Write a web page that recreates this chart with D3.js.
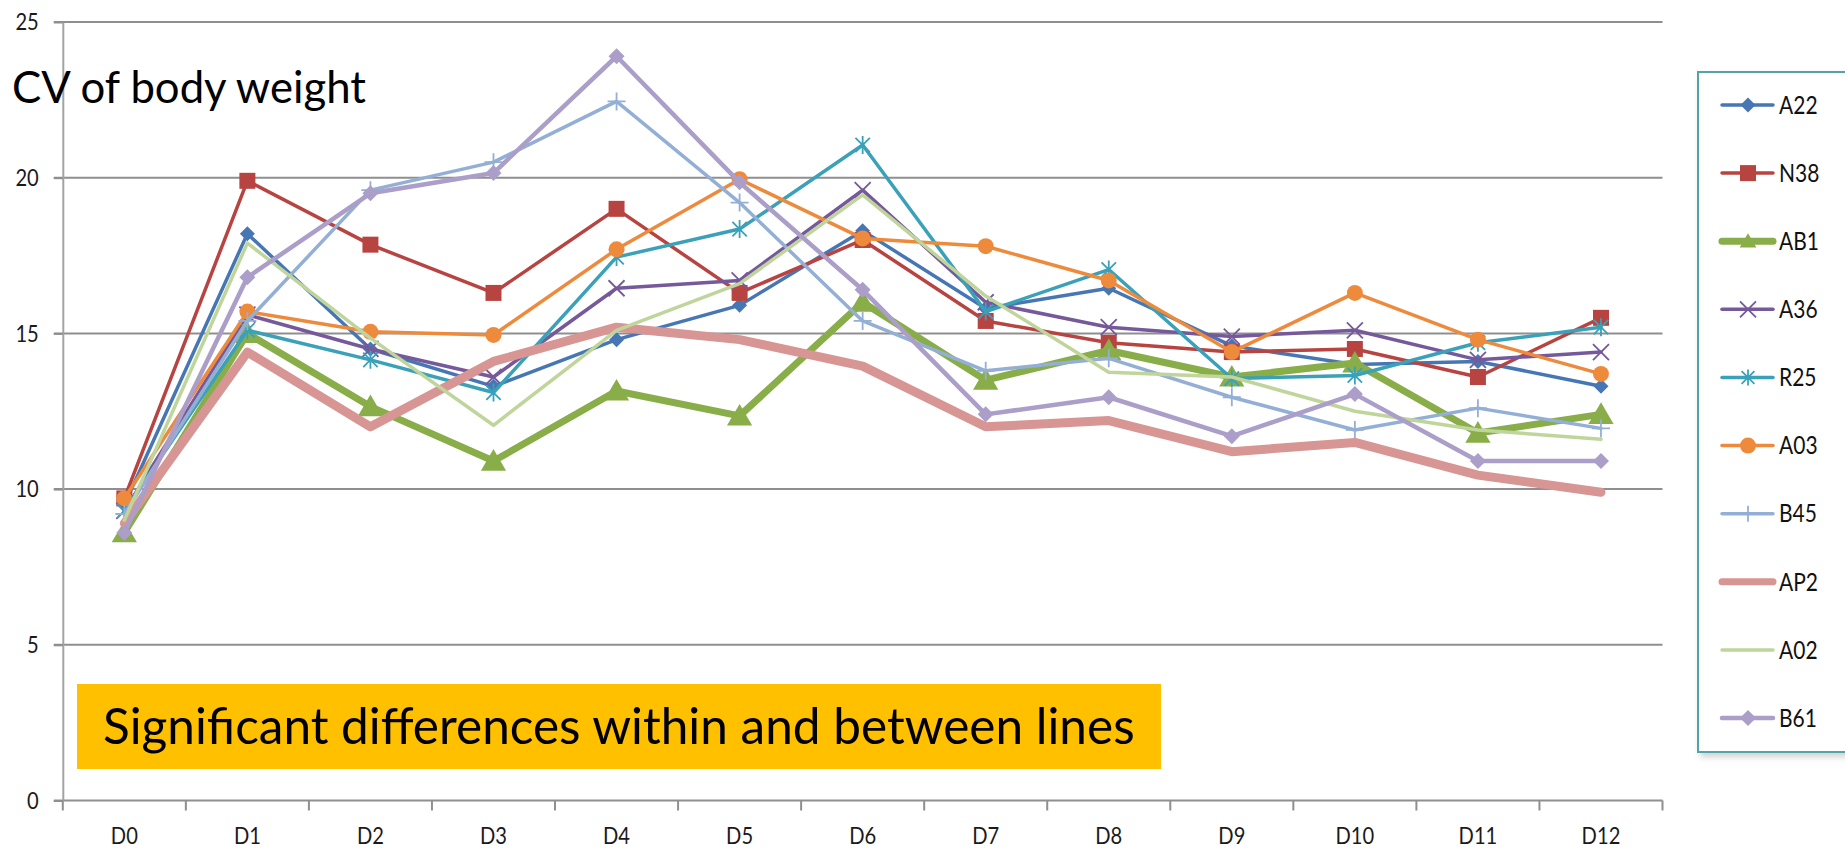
<!DOCTYPE html>
<html>
<head>
<meta charset="utf-8">
<script src="https://cdn.jsdelivr.net/npm/d3@7"></script>
<style>
  html, body { margin: 0; padding: 0; background: #ffffff; overflow: hidden; }
  svg { display: block; font-family: Lato, "Open Sans", sans-serif; }
</style>
</head>
<body>
<svg id="chart" width="1845" height="850"></svg>
<script>
// Days on the x axis and y tick values
const days = ["D0", "D1", "D2", "D3", "D4", "D5", "D6", "D7", "D8", "D9", "D10", "D11", "D12"];
const yTicks = [0, 5, 10, 15, 20, 25];

// CV of body weight (%) per line, D0..D12
const A22 = [9.5, 18.2, 14.5, 13.3, 14.8, 15.9, 18.3, 15.8, 16.45, 14.6, 14.0, 14.1, 13.3];
const N38 = [9.7, 19.9, 17.85, 16.3, 19.0, 16.3, 18.0, 15.4, 14.7, 14.4, 14.5, 13.6, 15.5];
const AB1 = [8.6, 15.0, 12.65, 10.9, 13.15, 12.35, 16.0, 13.5, 14.45, 13.6, 14.05, 11.8, 12.4];
const A36 = [9.3, 15.6, 14.5, 13.6, 16.45, 16.7, 19.6, 16.0, 15.2, 14.9, 15.1, 14.15, 14.4];
const R25 = [9.3, 15.1, 14.15, 13.1, 17.45, 18.35, 21.05, 15.7, 17.05, 13.55, 13.65, 14.7, 15.2];
const A03 = [9.7, 15.7, 15.05, 14.95, 17.7, 19.95, 18.05, 17.8, 16.7, 14.4, 16.3, 14.8, 13.7];
const B45 = [9.2, 15.4, 19.6, 20.5, 22.45, 19.2, 15.4, 13.8, 14.2, 12.95, 11.9, 12.6, 11.95];
const AP2 = [8.9, 14.4, 12.0, 14.1, 15.2, 14.8, 13.95, 12.0, 12.2, 11.2, 11.5, 10.45, 9.9];
const A02 = [9.0, 17.9, 14.85, 12.05, 15.1, 16.6, 19.45, 16.2, 13.75, 13.6, 12.5, 11.9, 11.6];
const B61 = [8.6, 16.8, 19.5, 20.15, 23.9, 19.85, 16.4, 12.4, 12.95, 11.7, 13.05, 10.9, 10.9];

const seriesNames = ["A22", "N38", "AB1", "A36", "R25", "A03", "B45", "AP2", "A02", "B61"];
const seriesValues = [A22, N38, AB1, A36, R25, A03, B45, AP2, A02, B61];

const titleText = "CV of body weight";
const noteText = "Significant differences within and between lines";

// Per-line drawing style
const styles = {
  A22: { color: "#4677b4", width: 3.5, marker: "diamond",  size: 7.5 },
  N38: { color: "#b84441", width: 3.5, marker: "square",   size: 8 },
  AB1: { color: "#89ad48", width: 7,   marker: "triangle", size: 12 },
  A36: { color: "#76599a", width: 3.5, marker: "x",        size: 8 },
  R25: { color: "#3aa1b9", width: 3.5, marker: "star",     size: 9 },
  A03: { color: "#ee8a3c", width: 3.5, marker: "circle",   size: 8 },
  B45: { color: "#94afd6", width: 3.5, marker: "plus",     size: 9 },
  AP2: { color: "#d79593", width: 9,   marker: null,       size: 0 },
  A02: { color: "#c0d59b", width: 3.5, marker: null,       size: 0 },
  B61: { color: "#ab9ec8", width: 4.5, marker: "diamond",  size: 8 }
};

const series = seriesNames.map((name, i) => ({
  name,
  points: days.map((d, j) => ({ day: d, value: seriesValues[i][j] }))
}));

const svg = d3.select("#chart");
const plot = { left: 62.8, right: 1662.5, top: 22, bottom: 800.5 };

const x = d3.scaleBand().domain(days).range([plot.left, plot.right]).padding(0);
const y = d3.scaleLinear().domain([0, 25]).range([plot.bottom, plot.top]);
const cx = d => x(d) + x.bandwidth() / 2;

const gridColor = "#8f8f8f";
const squeeze = 0.84; // condensed look for axis and legend labels

// Horizontal gridlines (each starts at the tick mark left of the axis)
svg.append("g").selectAll("line")
  .data(yTicks)
  .join("line")
  .attr("x1", plot.left - 9).attr("x2", plot.right)
  .attr("y1", d => y(d)).attr("y2", d => y(d))
  .attr("stroke", gridColor).attr("stroke-width", 2);

// Y axis with labels
const yAxis = svg.append("g")
  .attr("transform", `translate(${plot.left},0)`)
  .call(d3.axisLeft(y).tickValues(yTicks).tickSizeInner(9).tickSizeOuter(0).tickPadding(15));
yAxis.select(".domain").attr("stroke", "#a3a3a3").attr("stroke-width", 2);
yAxis.selectAll(".tick line").attr("stroke", gridColor).attr("stroke-width", 2);
yAxis.selectAll(".tick text")
  .attr("x", -24 / squeeze)
  .attr("transform", `scale(${squeeze},1)`)
  .attr("font-family", "Lato, sans-serif").attr("font-size", 24).attr("fill", "#1a1a1a");

// X axis: labels at category centres, ticks at category boundaries
const xAxis = svg.append("g")
  .attr("transform", `translate(0,${plot.bottom})`)
  .call(d3.axisBottom(x).tickSize(0).tickPadding(26));
xAxis.select(".domain").remove();
xAxis.selectAll(".tick text")
  .attr("transform", `scale(${squeeze},1)`)
  .attr("font-family", "Lato, sans-serif").attr("font-size", 24).attr("fill", "#1a1a1a");

const boundaries = days.map(d => x(d)).concat([x(days[days.length - 1]) + x.bandwidth()]);
svg.append("g").selectAll("line")
  .data(boundaries)
  .join("line")
  .attr("x1", d => d).attr("x2", d => d)
  .attr("y1", plot.bottom).attr("y2", plot.bottom + 10)
  .attr("stroke", gridColor).attr("stroke-width", 2);

// Marker shapes
function markerPath(type, s) {
  switch (type) {
    case "diamond":  return `M0,${-s}L${s},0L0,${s}L${-s},0Z`;
    case "square":   return `M${-s},${-s}H${s}V${s}H${-s}Z`;
    case "triangle": return `M0,${-s}L${s * 1.05},${s * 0.8}L${-s * 1.05},${s * 0.8}Z`;
    case "x":        return `M${-s},${-s}L${s},${s}M${-s},${s}L${s},${-s}`;
    case "star":     return `M${-s * 0.8},${-s * 0.8}L${s * 0.8},${s * 0.8}M${-s * 0.8},${s * 0.8}L${s * 0.8},${-s * 0.8}M0,${-s}L0,${s}`;
    case "plus":     return `M0,${-s}L0,${s}M${-s},0L${s},0`;
    default:         return "";
  }
}
function drawMarker(g, type, s, color) {
  if (!type) return;
  if (type === "circle") {
    g.append("circle").attr("r", s).attr("fill", color);
  } else if (type === "x" || type === "star" || type === "plus") {
    g.append("path").attr("d", markerPath(type, s))
      .attr("fill", "none").attr("stroke", color).attr("stroke-width", 1.8);
  } else {
    g.append("path").attr("d", markerPath(type, s)).attr("fill", color);
  }
}

// Lines and markers
const line = d3.line().x(p => cx(p.day)).y(p => y(p.value));
const linesG = svg.append("g");
series.forEach(s => {
  const st = styles[s.name];
  const g = linesG.append("g");
  g.append("path")
    .attr("d", line(s.points))
    .attr("fill", "none")
    .attr("stroke", st.color)
    .attr("stroke-width", st.width)
    .attr("stroke-linejoin", "round")
    .attr("stroke-linecap", "round");
  s.points.forEach(p => {
    const m = g.append("g").attr("transform", `translate(${cx(p.day)},${y(p.value)})`);
    drawMarker(m, st.marker, st.size, st.color);
  });
});

// Title in the upper left
const title = svg.append("text")
  .attr("x", 12).attr("y", 103)
  .attr("font-family", "Lato, sans-serif")
  .attr("font-size", 40).attr("fill", "#000")
  .text(titleText);
const tW = title.node().getComputedTextLength();
title.attr("font-size", 40 * 354 / tW);

// Highlighted note box
svg.append("rect")
  .attr("x", 77).attr("y", 684).attr("width", 1084).attr("height", 85)
  .attr("fill", "#ffc000");
const note = svg.append("text")
  .attr("x", 103).attr("y", 744)
  .attr("font-family", "Lato, sans-serif")
  .attr("font-size", 44).attr("fill", "#000")
  .text(noteText);
const nW = note.node().getComputedTextLength();
note.attr("font-size", 44 * 1032 / nW);

// Legend
const defs = svg.append("defs");
const shadow = defs.append("filter").attr("id", "legendShadow")
  .attr("x", "-10%").attr("y", "-10%").attr("width", "130%").attr("height", "130%");
shadow.append("feDropShadow").attr("dx", 3).attr("dy", 4).attr("stdDeviation", 3)
  .attr("flood-color", "#000").attr("flood-opacity", 0.18);

const legend = svg.append("g").attr("transform", "translate(1698,72)");
legend.append("rect")
  .attr("width", 170).attr("height", 680)
  .attr("fill", "#ffffff").attr("stroke", "#52a3a8").attr("stroke-width", 2)
  .attr("filter", "url(#legendShadow)");

const rowY = d3.scalePoint().domain(seriesNames).range([33, 646]);
seriesNames.forEach(name => {
  const st = styles[name];
  const row = legend.append("g").attr("transform", `translate(0,${rowY(name)})`);
  row.append("line")
    .attr("x1", 24).attr("x2", 75)
    .attr("stroke", st.color)
    .attr("stroke-width", Math.min(st.width, 7))
    .attr("stroke-linecap", "round");
  const m = row.append("g").attr("transform", "translate(50,0)");
  drawMarker(m, st.marker, Math.min(st.size, 8), st.color);
  row.append("text")
    .attr("x", 81 / squeeze).attr("y", 0).attr("dy", "0.35em")
    .attr("transform", `scale(${squeeze},1)`)
    .attr("font-family", "Lato, sans-serif")
    .attr("font-size", 25).attr("fill", "#111")
    .text(name);
});
</script>
</body>
</html>
